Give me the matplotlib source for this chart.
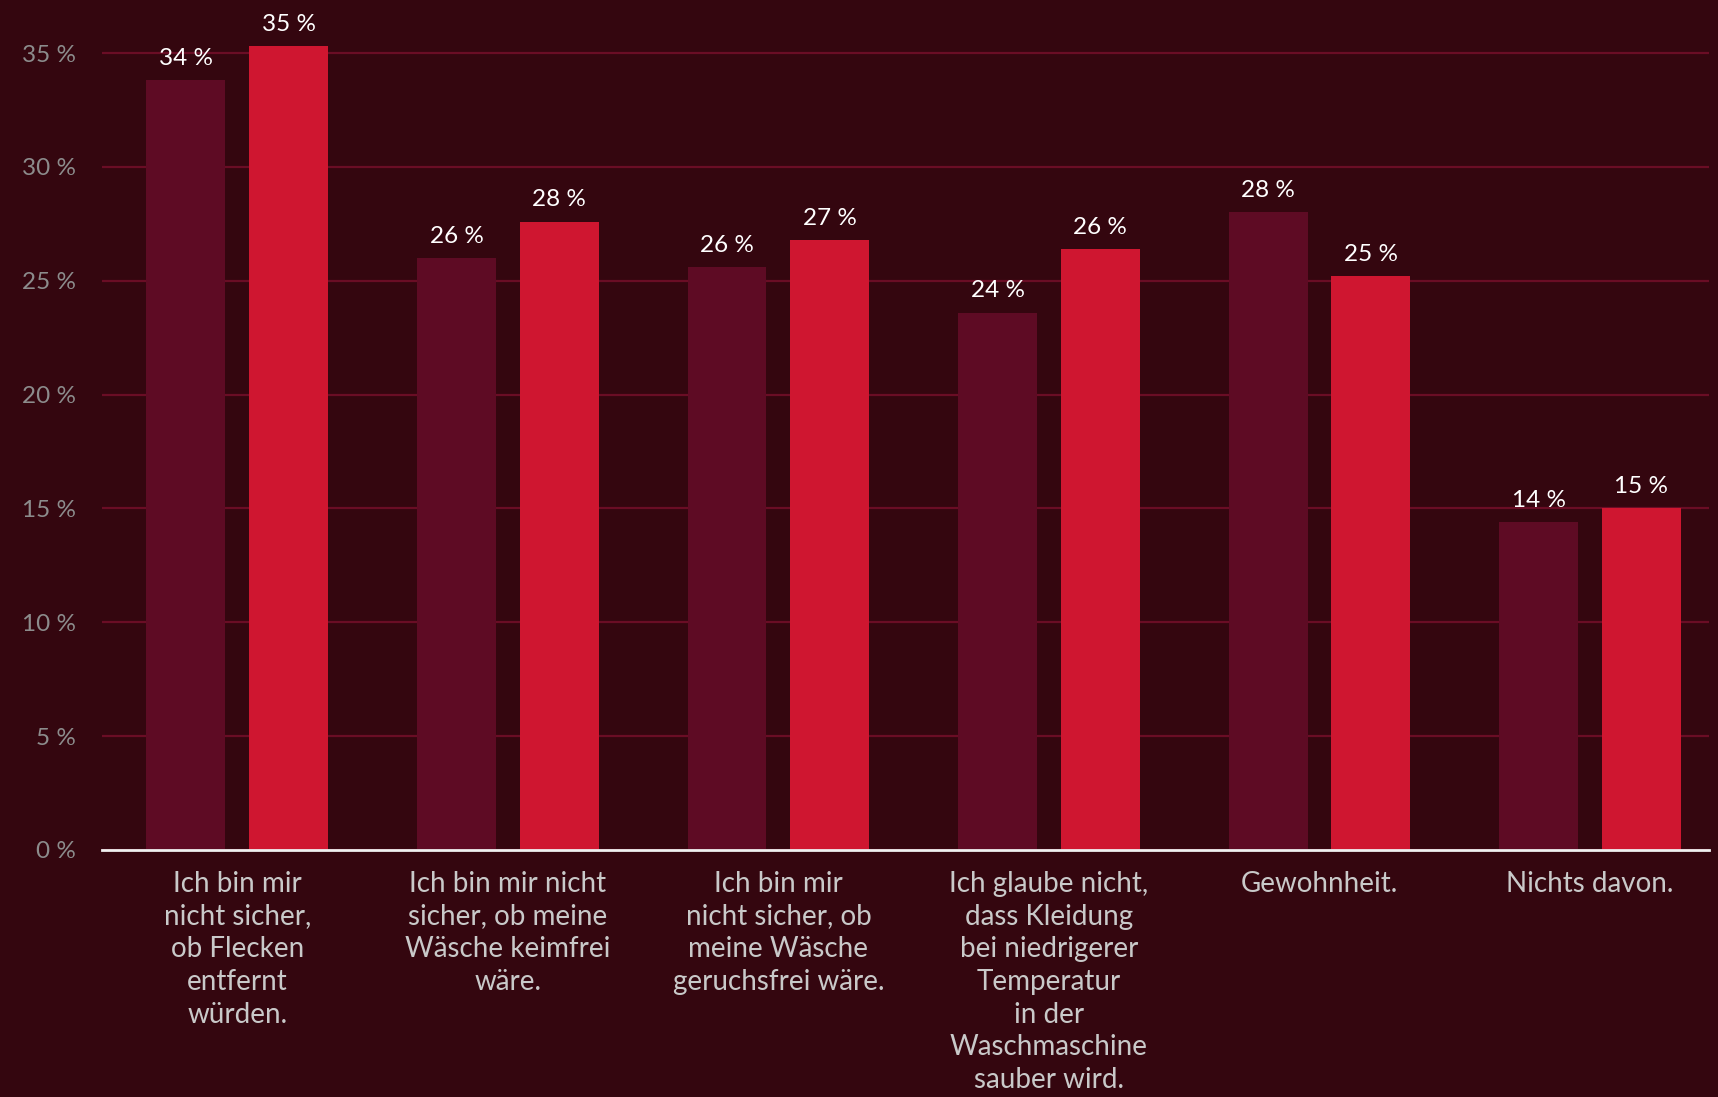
import matplotlib.pyplot as plt
import numpy as np

plt.rcParams['font.family'] = ['Lato', 'DejaVu Sans']

categories = [
    'Ich bin mir\nnicht sicher,\nob Flecken\nentfernt\nwürden.',
    'Ich bin mir nicht\nsicher, ob meine\nWäsche keimfrei\nwäre.',
    'Ich bin mir\nnicht sicher, ob\nmeine Wäsche\ngeruchsfrei wäre.',
    'Ich glaube nicht,\ndass Kleidung\nbei niedrigerer\nTemperatur\nin der\nWaschmaschine\nsauber wird.',
    'Gewohnheit.',
    'Nichts davon.',
]
series_a = [33.8, 26.0, 25.6, 23.6, 28.0, 14.4]
series_b = [35.3, 27.6, 26.8, 26.4, 25.2, 15.0]
labels_a = ['34 %', '26 %', '26 %', '24 %', '28 %', '14 %']
labels_b = ['35 %', '28 %', '27 %', '26 %', '25 %', '15 %']
yticks = [0, 5, 10, 15, 20, 25, 30, 35]

bg = '#34060f'
col_a = '#5e0b24'
col_b = '#cf1630'

fig = plt.figure(figsize=(17.18, 10.97), dpi=100)
fig.patch.set_facecolor(bg)
ax = fig.add_axes([0.0594, 0.2252, 0.9354, 0.7472])
ax.set_facecolor(bg)

x = np.arange(len(categories))
w = 0.292
off = 0.19
bars_a = ax.bar(x - off, series_a, w, color=col_a, zorder=3)
bars_b = ax.bar(x + off, series_b, w, color=col_b, zorder=3)

for bars, labs in [(bars_a, labels_a), (bars_b, labels_b)]:
    for b, t in zip(bars, labs):
        ax.annotate(t, (b.get_x() + b.get_width() / 2, b.get_height()),
                    xytext=(0, 8), textcoords='offset points',
                    ha='center', va='bottom', color='white', fontsize=17.5)

ax.set_xlim(-0.5, 5.44)
ax.set_ylim(0, 36)
ax.set_yticks(yticks)
ax.set_yticklabels([f'{v} %' for v in yticks], color='#8c8c8c', fontsize=17.5)
ax.set_xticks(x)
ax.set_xticklabels(categories, color='#c9c9c9', fontsize=20, linespacing=1.32, va='top')
ax.tick_params(axis='y', length=0, pad=19)
ax.tick_params(axis='x', length=0, pad=15)

ax.grid(axis='y', color='#6a0d25', linewidth=1.6, zorder=0)
for s in ['top', 'right', 'left']:
    ax.spines[s].set_visible(False)
ax.spines['bottom'].set_color('#f0f0f0')
ax.spines['bottom'].set_linewidth(2)
ax.spines['bottom'].set_zorder(4)

fig.savefig('out.png', dpi=100, facecolor=bg)
